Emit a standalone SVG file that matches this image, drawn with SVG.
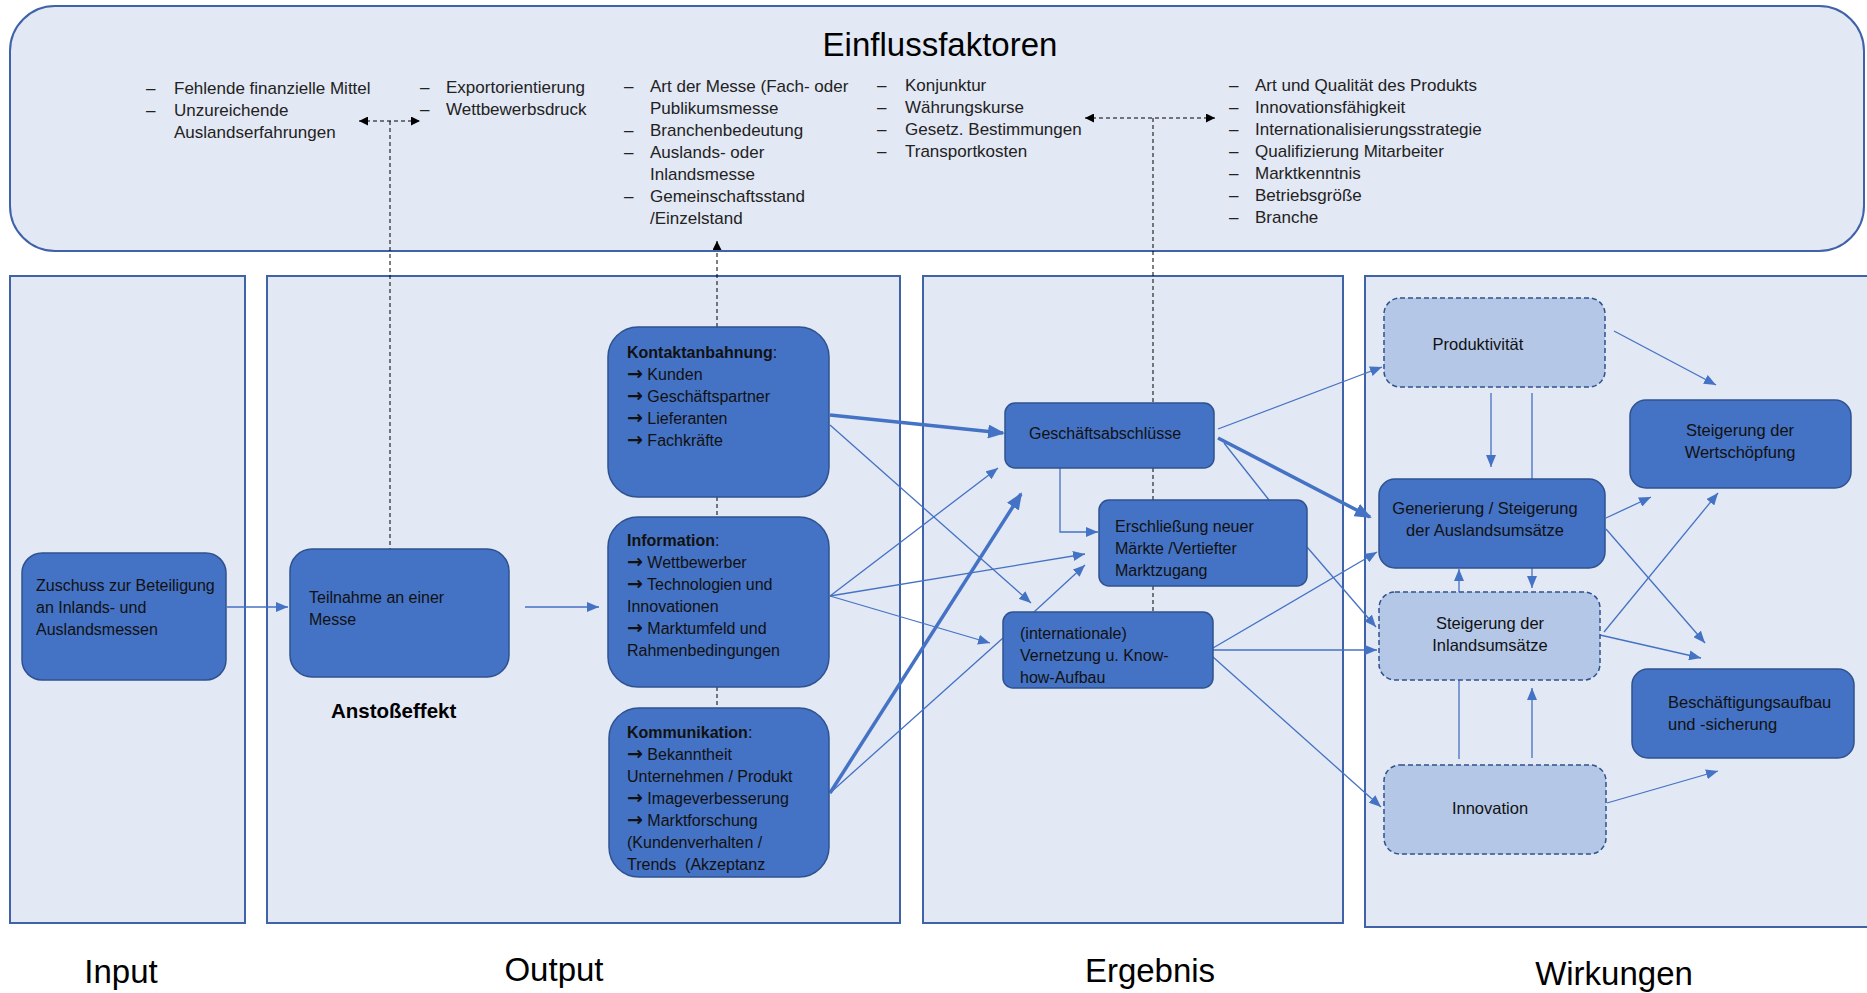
<svg xmlns="http://www.w3.org/2000/svg" width="1867" height="993" viewBox="0 0 1867 993">
<style>
.panel{fill:#E2E8F4;stroke:#3F62A8;stroke-width:2}
.dark{fill:#4472C4;stroke:#2F528F;stroke-width:1.5}
.light{fill:#B4C7E7;stroke:#2F528F;stroke-width:1.5;stroke-dasharray:5 3}
.t{font-family:"Liberation Sans",Arial,sans-serif;font-size:16px;fill:#111;white-space:pre}
.tw{font-family:"Liberation Sans",Arial,sans-serif;font-size:16.5px;fill:#111}
.tl{font-family:"Liberation Sans",Arial,sans-serif;font-size:17px;fill:#222}
.big{font-family:"Liberation Sans",Arial,sans-serif;font-size:33px;fill:#000}
.ar{font-family:"DejaVu Sans",sans-serif;font-weight:bold;font-size:19px}
.c{fill:none;stroke:#4472C4;stroke-width:1.3}
.ca{fill:none;stroke:#4472C4;stroke-width:1.3;marker-end:url(#ah)}
.ck{fill:none;stroke:#4472C4;stroke-width:3.5;marker-end:url(#ahk)}
.d{fill:none;stroke:#000;stroke-width:1;stroke-dasharray:4 3}
</style>
<defs>
<marker id="ah" viewBox="0 0 12 10" refX="12" refY="5" markerWidth="12" markerHeight="10" markerUnits="userSpaceOnUse" orient="auto"><path d="M0,0 L12,5 L0,10 z" fill="#4472C4"/></marker>
<marker id="ahk" viewBox="0 0 17 14" refX="15" refY="7" markerWidth="17" markerHeight="14" markerUnits="userSpaceOnUse" orient="auto"><path d="M0,0 L17,7 L0,14 z" fill="#4472C4"/></marker>
<marker id="ab" viewBox="0 0 9 9" refX="9" refY="4.5" markerWidth="9" markerHeight="9" markerUnits="userSpaceOnUse" orient="auto-start-reverse"><path d="M0,0 L9,4.5 L0,9 z" fill="#000"/></marker>
</defs>

<g id="einflussfaktoren">
<rect x="10" y="6" width="1854" height="245" rx="45" ry="45" class="panel"/>
<text x="940" y="56" text-anchor="middle" class="big">Einflussfaktoren</text>
<g class="tl">
<text x="146" y="94">–</text><text x="174" y="94">Fehlende finanzielle Mittel</text>
<text x="146" y="116">–</text><text x="174" y="116">Unzureichende</text>
<text x="174" y="138">Auslandserfahrungen</text>
<text x="420" y="93">–</text><text x="446" y="93">Exportorientierung</text>
<text x="420" y="115">–</text><text x="446" y="115">Wettbewerbsdruck</text>
<text x="624" y="92">–</text><text x="650" y="92">Art der Messe (Fach- oder</text>
<text x="650" y="114">Publikumsmesse</text>
<text x="624" y="136">–</text><text x="650" y="136">Branchenbedeutung</text>
<text x="624" y="158">–</text><text x="650" y="158">Auslands- oder</text>
<text x="650" y="180">Inlandsmesse</text>
<text x="624" y="202">–</text><text x="650" y="202">Gemeinschaftsstand</text>
<text x="650" y="224">/Einzelstand</text>
<text x="877" y="91">–</text><text x="905" y="91">Konjunktur</text>
<text x="877" y="113">–</text><text x="905" y="113">Währungskurse</text>
<text x="877" y="135">–</text><text x="905" y="135">Gesetz. Bestimmungen</text>
<text x="877" y="157">–</text><text x="905" y="157">Transportkosten</text>
<text x="1229" y="91">–</text><text x="1255" y="91">Art und Qualität des Produkts</text>
<text x="1229" y="113">–</text><text x="1255" y="113">Innovationsfähigkeit</text>
<text x="1229" y="135">–</text><text x="1255" y="135">Internationalisierungsstrategie</text>
<text x="1229" y="157">–</text><text x="1255" y="157">Qualifizierung Mitarbeiter</text>
<text x="1229" y="179">–</text><text x="1255" y="179">Marktkenntnis</text>
<text x="1229" y="201">–</text><text x="1255" y="201">Betriebsgröße</text>
<text x="1229" y="223">–</text><text x="1255" y="223">Branche</text>
</g>
</g>

<g id="panels">
<rect id="panel-input" x="10" y="276" width="235" height="647" class="panel"/>
<rect id="panel-output" x="267" y="276" width="633" height="647" class="panel"/>
<rect id="panel-ergebnis" x="923" y="276" width="420" height="647" class="panel"/>
<rect id="panel-wirkungen" x="1365" y="276" width="520" height="651" class="panel"/>
</g>

<g id="connectors">
<line x1="359" y1="121" x2="420" y2="121" class="d" marker-start="url(#ab)" marker-end="url(#ab)"/>
<line x1="390" y1="121" x2="390" y2="549" class="d"/>
<line x1="717" y1="327" x2="717" y2="241" class="d" marker-end="url(#ab)"/>
<line x1="717" y1="497" x2="717" y2="517" class="d"/>
<line x1="717" y1="687" x2="717" y2="708" class="d"/>
<line x1="1085" y1="118" x2="1215" y2="118" class="d" marker-start="url(#ab)" marker-end="url(#ab)"/>
<line x1="1153" y1="118" x2="1153" y2="403" class="d"/>
<line x1="1153" y1="468" x2="1153" y2="500" class="d"/>
<line x1="1153" y1="586" x2="1153" y2="612" class="d"/>
<line x1="227" y1="607" x2="288" y2="607" class="ca"/>
<line x1="525" y1="607" x2="599" y2="607" class="ca"/>
<line x1="830" y1="415" x2="1003" y2="433" class="ck"/>
<line x1="830" y1="425" x2="1031" y2="603" class="ca"/>
<line x1="830" y1="596" x2="998" y2="468" class="ca"/>
<line x1="830" y1="596" x2="1085" y2="554" class="ca"/>
<line x1="830" y1="596" x2="990" y2="643" class="ca"/>
<line x1="830" y1="793" x2="1021" y2="494" class="ck"/>
<line x1="830" y1="793" x2="1003" y2="638" class="c"/>
<polyline points="1060,468 1060,532 1098,532" class="ca"/>
<line x1="1034" y1="612" x2="1085" y2="565" class="ca"/>
<line x1="1224" y1="443" x2="1269" y2="500" class="c"/>
<line x1="1218" y1="429" x2="1382" y2="367" class="ca"/>
<line x1="1218" y1="438" x2="1370" y2="517" class="ck"/>
<line x1="1307" y1="547" x2="1376" y2="627" class="ca"/>
<line x1="1213" y1="648" x2="1377" y2="552" class="ca"/>
<line x1="1213" y1="650" x2="1377" y2="650" class="ca"/>
<line x1="1213" y1="657" x2="1381" y2="807" class="ca"/>
<line x1="1614" y1="331" x2="1716" y2="385" class="ca"/>
<line x1="1491" y1="393" x2="1491" y2="467" class="ca"/>
<line x1="1532" y1="393" x2="1532" y2="479" class="c"/>
<line x1="1606" y1="518" x2="1651" y2="497" class="ca"/>
<line x1="1606" y1="529" x2="1705" y2="643" class="ca"/>
<line x1="1459" y1="592" x2="1459" y2="569" class="ca"/>
<line x1="1532" y1="568" x2="1532" y2="588" class="ca"/>
<line x1="1604" y1="632" x2="1718" y2="493" class="ca"/>
<line x1="1600" y1="635" x2="1701" y2="658" class="ca"/>
<line x1="1459" y1="680" x2="1459" y2="759" class="c"/>
<line x1="1532" y1="758" x2="1532" y2="688" class="ca"/>
<line x1="1607" y1="803" x2="1718" y2="771" class="ca"/>
</g>

<g id="zuschuss">
<rect x="22" y="553" width="204" height="127" rx="20" class="dark"/>
<text class="t"><tspan x="36" y="591">Zuschuss zur Beteiligung</tspan><tspan x="36" y="613">an Inlands- und</tspan><tspan x="36" y="635">Auslandsmessen</tspan></text>
</g>

<g id="teilnahme">
<rect x="290" y="549" width="219" height="128" rx="22" class="dark"/>
<text class="t"><tspan x="309" y="603">Teilnahme an einer</tspan><tspan x="309" y="625">Messe</tspan></text>
</g>

<g id="anstosseffekt">
<text x="331" y="718" style="font-family:'Liberation Sans',Arial,sans-serif;font-size:20.5px;font-weight:bold;fill:#000">Anstoßeffekt</text>
</g>

<g id="kontaktanbahnung">
<rect x="608" y="327" width="221" height="170" rx="30" class="dark"/>
<text class="t"><tspan x="627" y="358"><tspan font-weight="bold">Kontaktanbahnung</tspan>:</tspan><tspan x="627" y="380"><tspan class="ar">→</tspan> Kunden</tspan><tspan x="627" y="402"><tspan class="ar">→</tspan> Geschäftspartner</tspan><tspan x="627" y="424"><tspan class="ar">→</tspan> Lieferanten</tspan><tspan x="627" y="446"><tspan class="ar">→</tspan> Fachkräfte</tspan></text>
</g>

<g id="information">
<rect x="608" y="517" width="221" height="170" rx="30" class="dark"/>
<text class="t"><tspan x="627" y="546"><tspan font-weight="bold">Information</tspan>:</tspan><tspan x="627" y="568"><tspan class="ar">→</tspan> Wettbewerber</tspan><tspan x="627" y="590"><tspan class="ar">→</tspan> Technologien und</tspan><tspan x="627" y="612">Innovationen</tspan><tspan x="627" y="634"><tspan class="ar">→</tspan> Marktumfeld und</tspan><tspan x="627" y="656">Rahmenbedingungen</tspan></text>
</g>

<g id="kommunikation">
<rect x="609" y="708" width="220" height="169" rx="30" class="dark"/>
<text class="t"><tspan x="627" y="738"><tspan font-weight="bold">Kommunikation</tspan>:</tspan><tspan x="627" y="760"><tspan class="ar">→</tspan> Bekanntheit</tspan><tspan x="627" y="782">Unternehmen / Produkt</tspan><tspan x="627" y="804"><tspan class="ar">→</tspan> Imageverbesserung</tspan><tspan x="627" y="826"><tspan class="ar">→</tspan> Marktforschung</tspan><tspan x="627" y="848">(Kundenverhalten /</tspan><tspan x="627" y="870">Trends  (Akzeptanz</tspan></text>
</g>

<g id="geschaeftsabschluesse">
<rect x="1005" y="403" width="209" height="65" rx="10" class="dark"/>
<text x="1029" y="439" class="t">Geschäftsabschlüsse</text>
</g>

<g id="erschliessung">
<rect x="1099" y="500" width="208" height="86" rx="10" class="dark"/>
<text class="t"><tspan x="1115" y="532">Erschließung neuer</tspan><tspan x="1115" y="554">Märkte /Vertiefter</tspan><tspan x="1115" y="576">Marktzugang</tspan></text>
</g>

<g id="vernetzung">
<rect x="1003" y="612" width="210" height="76" rx="10" class="dark"/>
<text class="t"><tspan x="1020" y="639">(internationale)</tspan><tspan x="1020" y="661">Vernetzung u. Know-</tspan><tspan x="1020" y="683">how-Aufbau</tspan></text>
</g>

<g id="produktivitaet">
<rect x="1384" y="298" width="221" height="89" rx="16" class="light"/>
<text x="1478" y="350" text-anchor="middle" class="tw">Produktivität</text>
</g>

<g id="wertschoepfung">
<rect x="1630" y="400" width="221" height="88" rx="16" class="dark"/>
<text text-anchor="middle" class="tw"><tspan x="1740" y="436">Steigerung der</tspan><tspan x="1740" y="458">Wertschöpfung</tspan></text>
</g>

<g id="auslandsumsaetze">
<rect x="1379" y="479" width="226" height="89" rx="16" class="dark"/>
<text text-anchor="middle" class="tw"><tspan x="1485" y="514">Generierung / Steigerung</tspan><tspan x="1485" y="536">der Auslandsumsätze</tspan></text>
</g>

<g id="inlandsumsaetze">
<rect x="1379" y="592" width="221" height="88" rx="16" class="light"/>
<text text-anchor="middle" class="tw"><tspan x="1490" y="629">Steigerung der</tspan><tspan x="1490" y="651">Inlandsumsätze</tspan></text>
</g>

<g id="beschaeftigung">
<rect x="1632" y="669" width="222" height="89" rx="16" class="dark"/>
<text class="tw"><tspan x="1668" y="708">Beschäftigungsaufbau</tspan><tspan x="1668" y="730">und -sicherung</tspan></text>
</g>

<g id="innovation">
<rect x="1384" y="765" width="222" height="89" rx="16" class="light"/>
<text x="1490" y="814" text-anchor="middle" class="tw">Innovation</text>
</g>

<g id="labels">
<text x="121" y="983" text-anchor="middle" class="big">Input</text>
<text x="554" y="981" text-anchor="middle" class="big">Output</text>
<text x="1150" y="982" text-anchor="middle" class="big">Ergebnis</text>
<text x="1614" y="985" text-anchor="middle" class="big">Wirkungen</text>
</g>
</svg>
